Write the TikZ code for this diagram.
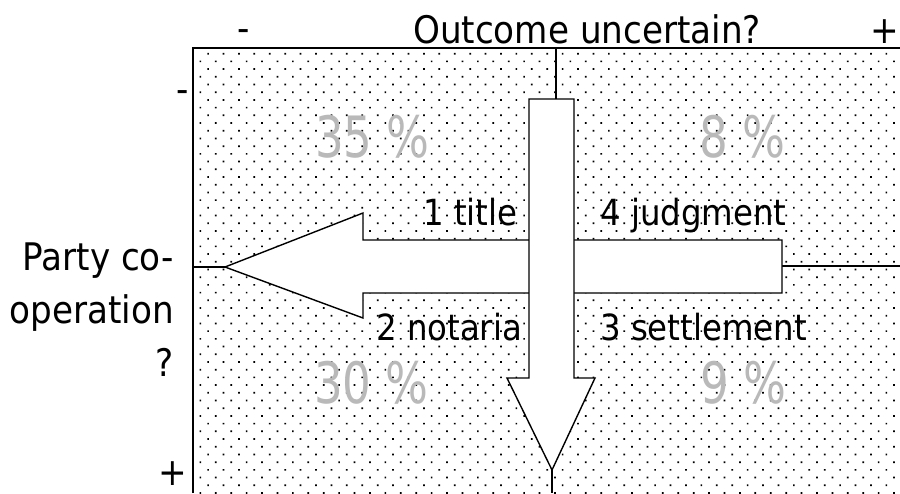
\documentclass[tikz,border=0pt]{standalone}
\usepackage{fontspec}
\setmainfont{DejaVu Sans Condensed}
\usetikzlibrary{patterns.meta}
\newcommand{\narrowtext}[1]{\scalebox{0.88}[1.0]{#1}}
\begin{document}
\begin{tikzpicture}[x=1pt,y=-1pt,
  axislab/.style={font=\fontsize{38}{44}\selectfont, inner sep=0pt, text=black},
  quadlab/.style={font=\fontsize{36}{40}\selectfont, inner sep=0pt, text=black},
  pctlab/.style={font=\fontsize{57}{60}\selectfont, inner sep=0pt, text=gray!55},
  arrowshape/.style={draw=black, line width=1.4pt, fill=white, line join=miter},
  axisline/.style={draw=black, line width=1.4pt},
  frameline/.style={draw=black, line width=2pt}]
\useasboundingbox (0,0) rectangle (900,493);
% dotted field
\fill[pattern={Dots[distance=10.9pt, angle=45, radius=1.2pt]}, pattern color=black] (193,48) rectangle (900,493);
% frame
\coordinate (ftl) at (193,48);
\coordinate (ftr) at (900,48);
\coordinate (fbl) at (193,493);
\draw[frameline] (fbl) -- (ftl) -- (ftr);
% axis lines
\coordinate (vtop) at (556,48);
\coordinate (vtopend) at (556,99);
\coordinate (vbot) at (552,493);
\coordinate (vtip) at (552,470);
\coordinate (hleft) at (193,267);
\coordinate (htip) at (225,267);
\coordinate (hright) at (900,266);
\coordinate (hend) at (782,266);
\draw[axisline] (vtop) -- (vtopend);
\draw[axisline] (vtip) -- (vbot);
\draw[axisline] (hleft) -- (htip);
\draw[axisline] (hend) -- (hright);
% axis labels
\node[axislab, anchor=base] (tminus) at (244,41) {-};
\node[axislab, anchor=base west] (outcome) at (413,43) {Outcome uncertain?};
\node[axislab, anchor=base east] (tplus) at (899,43) {+};
\node[axislab, anchor=base east] (lminus) at (189,102) {-};
\node[axislab, anchor=base east] (party1) at (174,270) {Party co-};
\node[axislab, anchor=base east] (party2) at (174,323) {operation};
\node[axislab, anchor=base east] (party3) at (174,376) {?};
\node[axislab, anchor=base east] (lplus) at (187,485) {+};
% percentages
\node[pctlab, anchor=base west] (p35) at (315,157) {\narrowtext{35 \%}};
\node[pctlab, anchor=base west] (p8) at (699,157) {\narrowtext{8 \%}};
\node[pctlab, anchor=base west] (p30) at (314,403) {\narrowtext{30 \%}};
\node[pctlab, anchor=base west] (p9) at (700,403) {\narrowtext{9 \%}};
% quadrant labels
\node[quadlab, anchor=base west] (q1) at (423,225) {1 title};
\node[quadlab, anchor=base west] (q4) at (600,225) {4 judgment};
\node[quadlab, anchor=base west] (q2) at (376,340) {2 notaria};
\node[quadlab, anchor=base west] (q3) at (600,340) {3 settlement};
% left arrow
\draw[arrowshape] (225,267) -- (363,213) -- (363,240) -- (782,240) -- (782,293) -- (363,293) -- (363,318) -- cycle;
% down arrow
\draw[arrowshape] (529,99) -- (574,99) -- (574,378) -- (595,378) -- (552,470) -- (507,378) -- (529,378) -- cycle;
\end{tikzpicture}
\end{document}
